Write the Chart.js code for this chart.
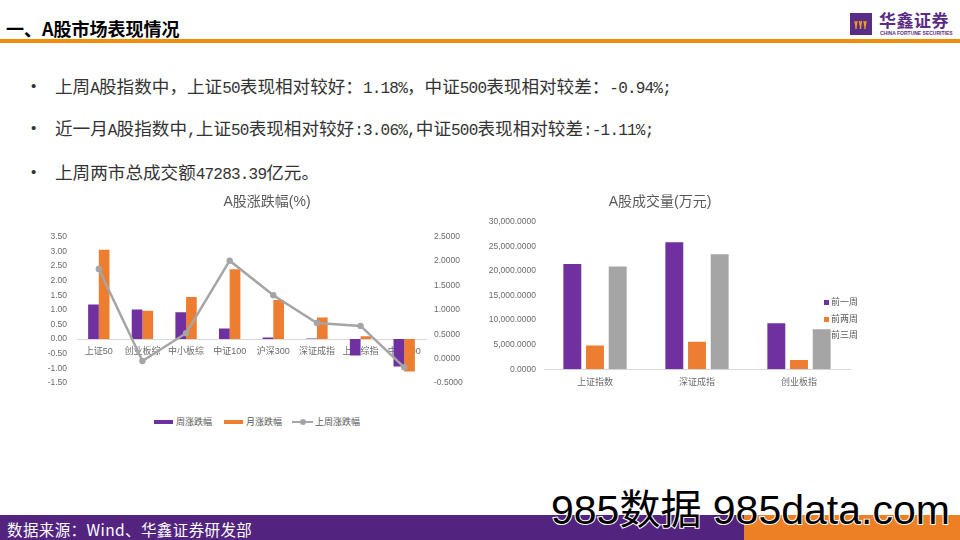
<!DOCTYPE html>
<html lang="zh-CN">
<head>
<meta charset="UTF-8">
<title>A股市场表现情况</title>
<script src="https://cdn.jsdelivr.net/npm/chart.js@4.4.1/dist/chart.umd.min.js"></script>
<style>
    html, body { margin: 0; padding: 0; }
    body {
        width: 960px; height: 540px; position: relative; overflow: hidden; background: #fff;
        font-family: 'Noto Sans CJK SC', 'Liberation Sans', sans-serif;
    }
    .abs { position: absolute; white-space: nowrap; }
    .header-title { left: 6px; top: 17px; font-size: 18px; line-height: 22px; font-weight: bold; color: #000; }
    .header-line { left: 0; top: 39px; width: 960px; height: 4px; background: #f08d0c; }
    .logo-box { left: 850px; top: 13px; }
    .logo-name { left: 879px; top: 10px; font-size: 17px; line-height: 20px; font-weight: bold; color: #5b2c85; letter-spacing: 0.5px; }
    .logo-sub { left: 880px; top: 30px; font-family: 'Liberation Sans', sans-serif; font-size: 5px; line-height: 6px; font-weight: bold; color: #5b2c85; }
    .bullet { left: 31px; font-family: 'Liberation Sans', sans-serif; font-size: 15px; line-height: 22px; color: #333; }
    .point { left: 55px; font-size: 17.6px; line-height: 22px; color: #333; }
    .point .h { font-family: 'Liberation Mono', monospace; font-size: 16px; letter-spacing: -0.8px; }
    .legend-item { font-size: 9px; line-height: 12px; color: #595959; }
    .swatch { position: absolute; }
    .footer-purple { left: 0; top: 515px; width: 744px; height: 25px; background: #52237f; }
    .footer-orange { left: 744px; top: 515px; width: 216px; height: 25px; background: #ed7f24; }
    .footer-text { left: 7px; top: 519px; font-size: 15.5px; line-height: 20px; color: #fff; letter-spacing: 0.4px; }
    .watermark {
        left: 551px; top: 489px; font-family: 'Liberation Sans', 'Noto Sans CJK SC', sans-serif;
        font-size: 41px; line-height: 42px; color: #000;
        -webkit-text-stroke: 2px #fff; paint-order: stroke fill;
    }
    canvas { position: absolute; }
</style>
</head>
<body>

<!-- --- Encabezado --- -->
<div class="abs header-title">一、A股市场表现情况</div>
<div class="abs header-line"></div>
<svg class="abs logo-box" width="22" height="22" viewBox="0 0 22 22">
    <rect width="22" height="22" fill="#5b2c85"/>
    <g stroke="#f0a020" stroke-width="1.4" fill="none">
        <path d="M5 8 L6 14 L7 8 M6 14 L6 16"/>
        <path d="M9.5 8 L10.5 14 L11.5 8 M10.5 14 L10.5 16"/>
        <path d="M14 8 L15 14 L16 8 M15 14 L15 16"/>
    </g>
</svg>
<div class="abs logo-name">华鑫证券</div>
<div class="abs logo-sub">CHINA FORTUNE SECURITIES</div>

<!-- --- Texto --- -->
<div class="abs bullet" style="top:75px;">•</div>
<div class="abs point" style="top:75px;">上周<span class="h">A</span>股指数中，上证<span class="h">50</span>表现相对较好：<span class="h">1.18%</span>，中证<span class="h">500</span>表现相对较差：<span class="h">-0.94%;</span></div>
<div class="abs bullet" style="top:117px;">•</div>
<div class="abs point" style="top:117px;">近一月<span class="h">A</span>股指数中<span class="h">,</span>上证<span class="h">50</span>表现相对较好<span class="h">:3.06%,</span>中证<span class="h">500</span>表现相对较差<span class="h">:-1.11%;</span></div>
<div class="abs bullet" style="top:161px;">•</div>
<div class="abs point" style="top:161px;">上周两市总成交额<span class="h">47283.39</span>亿元。</div>

<!-- --- Graficos --- -->
<canvas id="chart-zdf" width="454" height="208" style="left:40px; top:190px;"></canvas>
<canvas id="chart-cjl" width="400" height="205" style="left:470px; top:190px;"></canvas>

<!-- leyenda grafico 1 -->
<div class="swatch" style="left:154px; top:420px; width:19px; height:4px; background:#7030a0;"></div>
<div class="abs legend-item" style="left:176px; top:416px;">周涨跌幅</div>
<div class="swatch" style="left:224px; top:420px; width:19px; height:4px; background:#ed7d31;"></div>
<div class="abs legend-item" style="left:246px; top:416px;">月涨跌幅</div>
<div class="swatch" style="left:292px; top:421px; width:21px; height:2px; background:#a5a5a5;"></div>
<div class="swatch" style="left:300px; top:419px; width:6px; height:6px; border-radius:50%; background:#a5a5a5;"></div>
<div class="abs legend-item" style="left:315px; top:416px;">上周涨跌幅</div>

<!-- leyenda grafico 2 -->
<div class="swatch" style="left:824px; top:300px; width:5px; height:5px; background:#7030a0;"></div>
<div class="abs legend-item" style="left:831px; top:296px;">前一周</div>
<div class="swatch" style="left:824px; top:317px; width:5px; height:5px; background:#ed7d31;"></div>
<div class="abs legend-item" style="left:831px; top:313px;">前两周</div>
<div class="swatch" style="left:824px; top:333px; width:5px; height:5px; background:#a5a5a5;"></div>
<div class="abs legend-item" style="left:831px; top:329px;">前三周</div>

<!-- --- Pie de pagina --- -->
<div class="abs footer-purple"></div>
<div class="abs footer-orange"></div>
<div class="abs footer-text">数据来源：Wind、华鑫证券研发部</div>
<div class="abs watermark">985数据 985data.com</div>

<script>
// --- Datos ---
const categoriasZdf = ['上证50', '创业板综', '中小板综', '中证100', '沪深300', '深证成指', '上证综指', '中证500'];
const weekChange = [1.18, 1.01, 0.92, 0.36, 0.05, 0.02, -0.56, -0.94];
const monthChange = [3.06, 0.97, 1.44, 2.39, 1.34, 0.74, 0.10, -1.11];
const lastWeekChange = [1.84, -0.05, 0.52, 2.01, 1.30, 0.73, 0.67, -0.18];

const categoriasCjl = ['上证指数', '深证成指', '创业板指'];
const volWeek1 = [21420, 25863, 9350];
const volWeek2 = [4840, 5580, 1880];
const volWeek3 = [20920, 23400, 8140];

// --- Estilos ---
const PURPLE = '#7030a0';
const ORANGE = '#ed7d31';
const GRAY = '#a5a5a5';
const TICK_COLOR = '#6b6b6b';

Chart.defaults.font.family = "'Liberation Sans', 'Noto Sans CJK SC', sans-serif";
Chart.defaults.font.size = 9;
Chart.defaults.color = TICK_COLOR;

const noGrid = { display: false, drawTicks: false };
const numFont = { size: 8.5 };

// --- Grafico 1: A股涨跌幅 ---
new Chart(document.getElementById('chart-zdf'), {
    type: 'bar',
    data: {
        labels: categoriasZdf,
        datasets: [
            { label: '周涨跌幅', data: weekChange, backgroundColor: PURPLE, yAxisID: 'y', order: 1,
              categoryPercentage: 0.49, barPercentage: 1 },
            { label: '月涨跌幅', data: monthChange, backgroundColor: ORANGE, yAxisID: 'y', order: 1,
              categoryPercentage: 0.49, barPercentage: 1 },
            { type: 'line', label: '上周涨跌幅', data: lastWeekChange, yAxisID: 'y1', order: 0,
              borderColor: GRAY, backgroundColor: GRAY, borderWidth: 2.5, tension: 0,
              pointRadius: 3.2, pointBackgroundColor: GRAY, pointBorderWidth: 0 }
        ]
    },
    options: {
        responsive: false,
        animation: false,
        // el eje x va en y=0; el alto del canvas fija el borde inferior
        layout: { padding: { left: 0, right: 0, top: 0, bottom: 2 } },
        plugins: {
            legend: { display: false },
            tooltip: { enabled: false },
            title: {
                display: true, text: 'A股涨跌幅(%)', color: '#595959',
                font: { size: 14, weight: 'normal', family: "'Liberation Sans', 'Noto Sans CJK SC', sans-serif" },
                padding: { top: 4, bottom: 26 }
            }
        },
        scales: {
            x: {
                position: { y: 0 },
                grid: noGrid,
                border: { color: '#d9d9d9', width: 1 },
                ticks: { padding: 7, maxRotation: 0, autoSkip: false }
            },
            y: {
                position: 'left', min: -1.5, max: 3.5,
                grid: noGrid, border: { display: false },
                ticks: { stepSize: 0.5, padding: 10, font: numFont, callback: v => v.toFixed(2) },
                afterFit: scale => { scale.width = 37; }
            },
            y1: {
                position: 'right', min: -0.5, max: 2.5,
                grid: noGrid, border: { display: false },
                ticks: { stepSize: 0.5, padding: 8, font: numFont, callback: v => v.toFixed(4) },
                afterFit: scale => { scale.width = 68; }
            }
        }
    }
});

// --- Grafico 2: A股成交量 ---
const volFormatter = new Intl.NumberFormat('en-US', { minimumFractionDigits: 4, maximumFractionDigits: 4 });

new Chart(document.getElementById('chart-cjl'), {
    type: 'bar',
    data: {
        labels: categoriasCjl,
        datasets: [
            { label: '前一周', data: volWeek1, backgroundColor: PURPLE, categoryPercentage: 0.667, barPercentage: 0.79 },
            { label: '前两周', data: volWeek2, backgroundColor: ORANGE, categoryPercentage: 0.667, barPercentage: 0.79 },
            { label: '前三周', data: volWeek3, backgroundColor: GRAY, categoryPercentage: 0.667, barPercentage: 0.79 }
        ]
    },
    options: {
        responsive: false,
        animation: false,
        layout: { padding: { left: 0, right: 20, top: 0, bottom: 0 } },
        plugins: {
            legend: { display: false },
            tooltip: { enabled: false },
            title: {
                display: true, text: 'A股成交量(万元)', color: '#595959',
                font: { size: 14, weight: 'normal', family: "'Liberation Sans', 'Noto Sans CJK SC', sans-serif" },
                padding: { top: 4, bottom: 11 }
            }
        },
        scales: {
            x: {
                grid: noGrid,
                border: { color: '#d9d9d9', width: 1 },
                ticks: { padding: 8, maxRotation: 0 },
                afterFit: scale => { scale.height = 25.7; }
            },
            y: {
                min: 0, max: 30000,
                grid: noGrid, border: { display: false },
                ticks: { stepSize: 5000, padding: 8, font: numFont, callback: v => volFormatter.format(v) },
                afterFit: scale => { scale.width = 74; }
            }
        }
    }
});
</script>
</body>
</html>
